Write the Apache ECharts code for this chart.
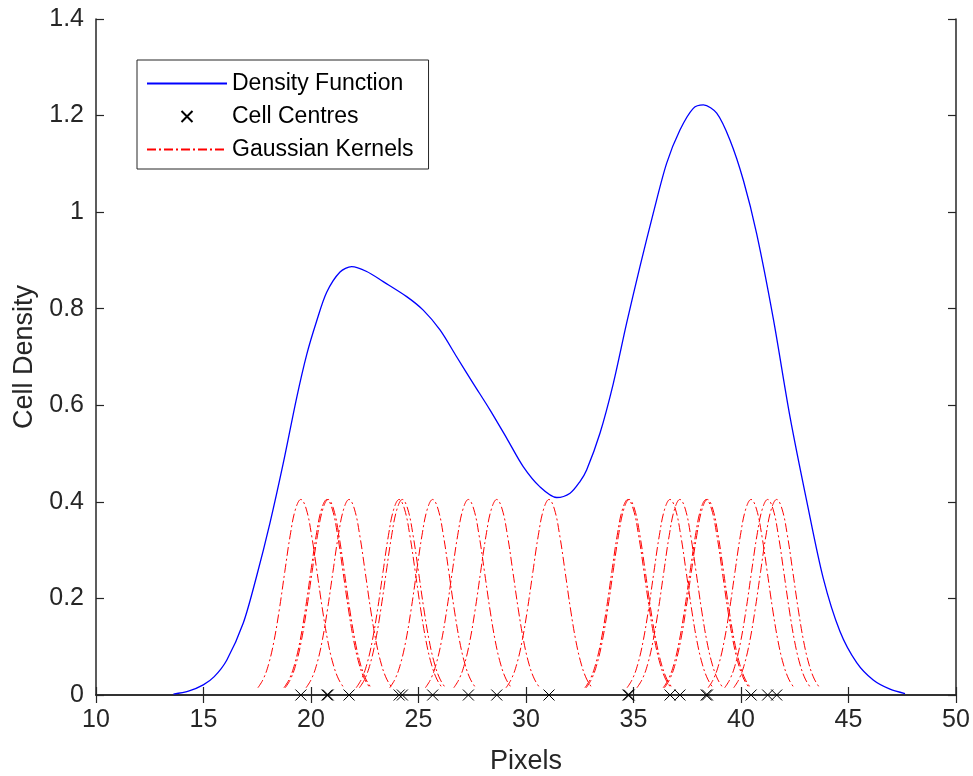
<!DOCTYPE html>
<html><head><meta charset="utf-8">
<script src="https://cdn.jsdelivr.net/npm/echarts/dist/echarts.min.js"></script>
<style>html,body{margin:0;padding:0;background:#fff}#c{width:973px;height:776px}</style>
</head><body><div id="c"></div>
<script>
// Density function
const densityX = [13.6, 14.3, 14.99, 15.5, 16.08, 16.85, 17.47, 18.09, 18.71, 19.33, 19.8, 20.26, 20.73, 21.35, 21.89, 22.59, 23.36, 24.45, 25.22, 26.0, 26.78, 27.55, 28.33, 29.1, 29.87, 30.65, 31.43, 32.05, 32.51, 32.82, 33.44, 34.06, 34.68, 35.3, 35.92, 36.54, 37.16, 37.78, 38.25, 38.87, 39.49, 40.11, 40.73, 41.5, 42.28, 43.06, 43.83, 44.6, 45.38, 46.15, 46.93, 47.63];
const densityY = [0.002, 0.008, 0.021, 0.038, 0.072, 0.149, 0.246, 0.356, 0.48, 0.615, 0.705, 0.774, 0.834, 0.876, 0.887, 0.877, 0.856, 0.825, 0.797, 0.756, 0.70, 0.645, 0.59, 0.532, 0.473, 0.431, 0.409, 0.418, 0.442, 0.466, 0.542, 0.645, 0.770, 0.887, 0.998, 1.101, 1.170, 1.215, 1.222, 1.205, 1.149, 1.066, 0.955, 0.780, 0.576, 0.401, 0.241, 0.132, 0.067, 0.031, 0.012, 0.003];
// Cell centres (x positions of the crosses)
const cellCentres = [19.53, 20.74, 20.8, 21.77, 24.1, 24.25, 25.66, 27.32, 28.64, 31.07, 34.74, 34.8, 36.7, 37.16, 38.38, 38.44, 40.47, 41.24, 41.66];
// Kernel profile (offset from centre, height), read from an isolated kernel
const kernelOffsets = [-2, -1.75, -1.5, -1.25, -1, -0.75, -0.5, -0.25, 0, 0.25, 0.5, 0.75, 1, 1.25, 1.5, 1.75, 2];
const kernelProfile = [0.015, 0.033, 0.064, 0.112, 0.178, 0.255, 0.330, 0.385, 0.405, 0.385, 0.330, 0.255, 0.178, 0.112, 0.064, 0.033, 0.015];
const xTickValues = [10, 15, 20, 25, 30, 35, 40, 45, 50];
const yTickValues = [0, 0.2, 0.4, 0.6, 0.8, 1, 1.2, 1.4];

const AX = '#262626';
const FONT = '"Liberation Sans", Arial, sans-serif';
const chart = echarts.init(document.getElementById('c'), null, {renderer: 'canvas'});

const kernelSeries = cellCentres.map(c => ({
  name: 'Gaussian Kernels', type: 'line', symbol: 'none', smooth: 0.4,
  lineStyle: {color: '#FF0000', width: 1, type: [9, 3, 2, 3]},
  itemStyle: {color: 'rgba(0,0,0,0)'},
  data: kernelOffsets.map((o, i) => [c + o, kernelProfile[i]]),
  z: 3, silent: true
}));

const X_PATH = 'path://M0,0L10,10M10,0L0,10';

const baseX = {
  type: 'value', min: xTickValues[0], max: xTickValues[xTickValues.length - 1], interval: 5,
  axisLine: {show: true, lineStyle: {color: AX, width: 1.5}},
  axisTick: {show: true, inside: true, length: 8, lineStyle: {color: AX, width: 1.2}},
  splitLine: {show: false}
};
const baseY = {
  type: 'value', min: yTickValues[0], max: yTickValues[yTickValues.length - 1], interval: 0.2,
  axisLine: {show: true, lineStyle: {color: AX, width: 1.5}},
  axisTick: {show: true, inside: true, length: 8, lineStyle: {color: AX, width: 1.2}},
  splitLine: {show: false}
};

chart.setOption({
  animation: false,
  backgroundColor: '#fff',
  grid: {left: 96, right: 17, top: 19, bottom: 81, containLabel: false, outerBoundsMode: 'none'},
  legend: {
    left: 137, top: 60, orient: 'vertical',
    data: ['Density Function', 'Cell Centres', 'Gaussian Kernels'],
    itemWidth: 80, itemHeight: 11, itemGap: 10,
    padding: [12, 15, 8, 9],
    borderColor: AX, borderWidth: 1, backgroundColor: '#fff',
    textStyle: {fontFamily: FONT, fontSize: 23, color: '#000', lineHeight: 23},
    selectedMode: false
  },
  xAxis: [
    Object.assign({}, baseX, {
      position: 'bottom', name: 'Pixels', nameLocation: 'middle', nameGap: 53,
      nameTextStyle: {fontFamily: FONT, fontSize: 27, color: AX},
      axisLabel: {show: true, margin: 13, fontFamily: FONT, fontSize: 25, color: AX}
    }),
    Object.assign({}, baseX, {position: 'top', axisLabel: {show: false}})
  ],
  yAxis: [
    Object.assign({}, baseY, {
      position: 'left', name: 'Cell Density', nameLocation: 'middle', nameGap: 51,
      nameTextStyle: {fontFamily: FONT, fontSize: 27, color: AX},
      axisLabel: {show: true, margin: 12, fontFamily: FONT, fontSize: 25, color: AX}
    }),
    Object.assign({}, baseY, {position: 'right', axisLabel: {show: false}})
  ],
  series: [
    {
      name: 'Density Function', type: 'line', symbol: 'none', smooth: 0.3,
      lineStyle: {color: '#0000FF', width: 1.3},
      itemStyle: {color: 'rgba(0,0,0,0)'},
      data: densityX.map((x, i) => [x, densityY[i]]), z: 4
    },
    ...kernelSeries,
    {
      name: 'Cell Centres', type: 'scatter', symbol: X_PATH, symbolSize: 11, clip: false,
      itemStyle: {color: 'none', borderColor: '#000', borderWidth: 1, opacity: 1},
      data: cellCentres.map(c => [c, 0]), z: 5
    }
  ]
});
</script>
</body></html>
